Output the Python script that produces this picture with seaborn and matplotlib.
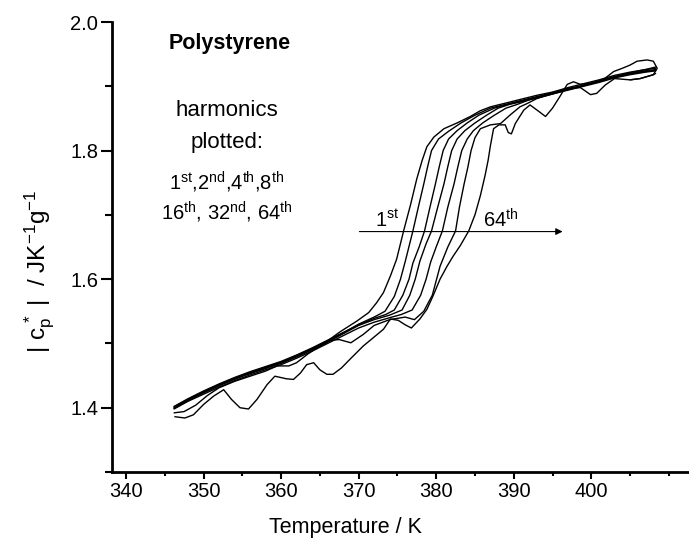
import numpy as np
import pandas as pd
import matplotlib
matplotlib.use("Agg")
import matplotlib.pyplot as plt
from matplotlib.ticker import MultipleLocator
import seaborn as sns

# ---------------- data ----------------
harmonics = ["1st", "2nd", "4th", "8th", "16th", "32nd", "64th"]

h1_T = [346.2, 348, 350, 352, 354, 356, 358, 360, 362, 364, 366, 367.6, 369.8, 371.3, 372.3, 373.2, 374.1,
        374.9, 375.8, 376.7, 377.5, 378.2, 378.8, 379.7, 381.0, 382.7, 384.4, 385.7, 387.0, 389, 391, 393,
        395, 397, 399, 401, 403, 405, 407, 408.3]
h1_cp = [1.401, 1.413, 1.425, 1.436, 1.446, 1.455, 1.463, 1.471, 1.481, 1.492, 1.504, 1.518, 1.535, 1.548,
         1.563, 1.579, 1.605, 1.631, 1.675, 1.716, 1.756, 1.785, 1.806, 1.821, 1.834, 1.843, 1.853, 1.862,
         1.868, 1.874, 1.880, 1.886, 1.891, 1.898, 1.904, 1.910, 1.917, 1.922, 1.926, 1.928]

h2_T = [346.2, 348, 350, 352, 354, 356, 358, 360, 362, 364, 366, 368, 370, 372, 373.4, 374.6, 375.4, 376.0,
        377.0, 377.7, 378.4, 378.9, 379.4, 380.3, 381.6, 383.2, 385.0, 387.0, 389, 391, 393, 395, 397, 399,
        401, 403, 405, 407, 408.3]
h2_cp = [1.399, 1.411, 1.424, 1.435, 1.444, 1.454, 1.462, 1.470, 1.480, 1.491, 1.503, 1.516, 1.530, 1.541,
         1.550, 1.573, 1.600, 1.627, 1.675, 1.712, 1.748, 1.775, 1.800, 1.818, 1.830, 1.843, 1.855, 1.866,
         1.872, 1.878, 1.884, 1.890, 1.896, 1.902, 1.908, 1.915, 1.920, 1.924, 1.926]

h4_T = [346.2, 348, 350, 352, 354, 356, 358, 360, 362, 364, 366, 368, 370, 372, 373.5, 374.6, 375.7, 376.5,
        377.0, 377.8, 378.5, 379.2, 379.9, 380.4, 380.9, 381.6, 382.7, 384.0, 385.5, 387.5, 389, 391, 393,
        395, 397, 399, 401, 403, 405, 407, 408.3]
h4_cp = [1.402, 1.414, 1.426, 1.437, 1.447, 1.456, 1.464, 1.472, 1.482, 1.493, 1.505, 1.517, 1.529, 1.539,
         1.545, 1.552, 1.575, 1.600, 1.625, 1.650, 1.675, 1.712, 1.748, 1.775, 1.800, 1.818, 1.831, 1.843,
         1.855, 1.866, 1.871, 1.877, 1.883, 1.889, 1.895, 1.901, 1.907, 1.914, 1.919, 1.923, 1.925]

h8_T = [346.2, 348, 350, 352, 354, 356, 358, 360, 362, 364, 366, 368, 370, 372, 374, 375.6, 376.6, 377.3,
        377.9, 378.7, 379.4, 380.2, 381.0, 381.5, 382.0, 382.7, 383.7, 385.0, 386.5, 388.0, 389.5, 391, 393,
        395, 397, 399, 401, 403, 405, 407, 408.3]
h8_cp = [1.400, 1.412, 1.423, 1.434, 1.445, 1.453, 1.461, 1.469, 1.479, 1.490, 1.502, 1.515, 1.528, 1.537,
         1.544, 1.552, 1.575, 1.600, 1.628, 1.655, 1.675, 1.712, 1.748, 1.775, 1.800, 1.818, 1.831, 1.843,
         1.855, 1.866, 1.872, 1.876, 1.882, 1.888, 1.894, 1.900, 1.906, 1.913, 1.918, 1.922, 1.924]

h16_T = [346.2, 348, 350, 352, 354, 356, 358, 360, 362, 364, 366, 368, 370, 372, 374, 375.5, 376.9, 378.0,
         378.7, 379.3, 380.0, 380.8, 381.5, 382.3, 382.8, 383.3, 384.0, 384.8, 386.0, 387.5, 389.0, 390.5,
         392, 393.5, 395, 397, 399, 401, 403, 405, 407, 408.3]
h16_cp = [1.398, 1.410, 1.421, 1.432, 1.442, 1.451, 1.459, 1.467, 1.477, 1.488, 1.500, 1.512, 1.524, 1.533,
          1.540, 1.545, 1.552, 1.575, 1.600, 1.627, 1.650, 1.675, 1.712, 1.748, 1.775, 1.800, 1.818, 1.831,
          1.843, 1.855, 1.866, 1.872, 1.879, 1.883, 1.888, 1.895, 1.901, 1.908, 1.915, 1.921, 1.926, 1.930]

h32_T = [346.2, 347.5, 349, 350.5, 352, 354, 356, 358, 359.5, 361, 362, 363.5, 365, 366.5, 367.5, 369,
         370.6, 372, 374, 376, 377.2, 378.4, 379.5, 380.5, 381.5, 382.5, 383.0, 383.6, 384.1, 384.5, 385.0,
         385.7, 387.0, 388.3, 389.5, 390.8, 391.7, 393, 395, 397, 398.6, 399.9, 400.7, 401.8, 403, 405,
         406.3, 408, 408.3]
h32_cp = [1.392, 1.394, 1.404, 1.419, 1.431, 1.441, 1.449, 1.457, 1.465, 1.465, 1.470, 1.484, 1.496, 1.505,
          1.506, 1.501, 1.514, 1.528, 1.537, 1.541, 1.537, 1.550, 1.575, 1.620, 1.650, 1.675, 1.712, 1.748,
          1.775, 1.800, 1.820, 1.834, 1.840, 1.842, 1.855, 1.868, 1.873, 1.881, 1.889, 1.897, 1.898, 1.887,
          1.889, 1.902, 1.912, 1.910, 1.912, 1.918, 1.920]

h64_T = [346.3, 347.6, 348.7, 350.0, 351.3, 352.6, 353.6, 354.7, 355.8, 356.9, 358.2, 359.2, 360.7, 361.6,
         362.5, 363.3, 364.2, 365.0, 365.9, 366.7, 367.8, 369.1, 370.6, 372.0, 373.2, 374.1, 375.1, 376.0,
         376.8, 377.9, 378.8, 379.6, 380.5, 381.4, 382.2, 383.1, 384.2, 385.0, 385.7, 386.3, 386.7, 387.0,
         387.4, 388.1, 388.9, 389.3, 389.7, 390.2, 391.3, 392.1, 393.0, 394.1, 395.0, 396.0, 396.9, 397.7,
         398.6, 400.0, 401.5, 402.9, 404.0, 405.0, 405.9, 407.2, 408.0, 408.5, 408.0, 406.3, 405.0]
h64_cp = [1.386, 1.384, 1.389, 1.405, 1.418, 1.428, 1.413, 1.400, 1.398, 1.413, 1.436, 1.449, 1.445, 1.444,
          1.454, 1.467, 1.470, 1.459, 1.452, 1.452, 1.462, 1.478, 1.496, 1.510, 1.522, 1.538, 1.536, 1.529,
          1.524, 1.538, 1.553, 1.574, 1.600, 1.620, 1.636, 1.652, 1.675, 1.700, 1.730, 1.761, 1.785, 1.808,
          1.834, 1.840, 1.840, 1.828, 1.826, 1.842, 1.863, 1.871, 1.863, 1.853, 1.866, 1.885, 1.903, 1.907,
          1.903, 1.905, 1.910, 1.923, 1.928, 1.933, 1.939, 1.941, 1.939, 1.928, 1.918, 1.912, 1.910]

x_ticks = [340, 350, 360, 370, 380, 390, 400]
y_ticks = [1.4, 1.6, 1.8, 2.0]
y_tick_labels = ["1.4", "1.6", "1.8", "2.0"]

series = {
    "1st": (h1_T, h1_cp), "2nd": (h2_T, h2_cp), "4th": (h4_T, h4_cp), "8th": (h8_T, h8_cp),
    "16th": (h16_T, h16_cp), "32nd": (h32_T, h32_cp), "64th": (h64_T, h64_cp),
}

# ---------------- style ----------------
sns.set_theme(style="ticks", rc={
    "axes.edgecolor": "black", "text.color": "black", "axes.labelcolor": "black",
    "xtick.color": "black", "ytick.color": "black",
})
plt.rcParams["font.family"] = ["Liberation Sans", "DejaVu Sans"]
plt.rcParams["mathtext.fontset"] = "custom"
plt.rcParams["mathtext.rm"] = "Liberation Sans"
plt.rcParams["mathtext.it"] = "Liberation Sans:italic"
plt.rcParams["mathtext.bf"] = "Liberation Sans:bold"

fig = plt.figure(figsize=(6.89, 5.40), dpi=100)
ax = fig.add_axes([112 / 689, 68 / 540, 577 / 689, 450 / 540])

frames = []
for name in harmonics:
    T, cp = series[name]
    frames.append(pd.DataFrame({"T": T, "cp": cp, "harmonic": name, "idx": range(len(T))}))
df = pd.concat(frames, ignore_index=True)

for name in harmonics:
    sub = df[df["harmonic"] == name]
    sns.lineplot(data=sub, x="T", y="cp", sort=False, estimator=None, color="black",
                 linewidth=1.0, ax=ax, legend=False)

ax.set_xlim(338.2, 412.6)
ax.set_ylim(1.3, 2.0)
ax.set_xticks(x_ticks)
ax.set_xticklabels([str(t) for t in x_ticks])
ax.set_yticks(y_ticks)
ax.set_yticklabels(y_tick_labels)
ax.xaxis.set_minor_locator(MultipleLocator(5))
ax.yaxis.set_minor_locator(MultipleLocator(0.1))

for s in ["top", "right"]:
    ax.spines[s].set_visible(False)
for s in ["left", "bottom"]:
    ax.spines[s].set_linewidth(2.0)

ax.tick_params(axis="y", which="major", length=8, width=1.5, direction="out", labelsize=14.5, pad=2)
ax.tick_params(axis="y", which="minor", length=5, width=1.5, direction="out")
ax.tick_params(axis="x", which="major", length=5, width=1.5, direction="out", labelsize=14.5, pad=2)
ax.tick_params(axis="x", which="minor", length=3, width=1.5, direction="out")

ax.set_xlabel("Temperature / K", fontsize=15.5)
ax.xaxis.set_label_coords(0.404, -0.101)
ax.set_ylabel(r"$\mathregular{|\ c_p^{\,*}\ |\ \ /\ JK^{-1}g^{-1}}$", fontsize=17.5)
ax.yaxis.set_label_coords(-0.095, 0.445)

ax.text(353.4, 1.966, "Polystyrene", fontsize=15.5, fontweight="bold", ha="center", va="center")
ax.text(353.0, 1.862, "harmonics", fontsize=16, ha="center", va="center")
ax.text(353.0, 1.812, "plotted:", fontsize=16, ha="center", va="center")
ax.text(353.0, 1.751,
        r"1$^{\mathregular{st}}$,2$^{\mathregular{nd}}$,4$^{\mathregular{th}}$,8$^{\mathregular{th}}$",
        fontsize=14.5, ha="center", va="center")
ax.text(353.0, 1.704,
        r"16$^{\mathregular{th}}$, 32$^{\mathregular{nd}}$, 64$^{\mathregular{th}}$",
        fontsize=14.5, ha="center", va="center")

ax.annotate("", xy=(396.3, 1.674), xytext=(370.1, 1.674),
            arrowprops=dict(arrowstyle="-|>", color="black", lw=0.8, mutation_scale=10,
                            shrinkA=0, shrinkB=0))
ax.text(372.1, 1.681, r"1$^{\mathregular{st}}$", fontsize=14.5, ha="left", va="baseline")
ax.text(386.1, 1.681, r"64$^{\mathregular{th}}$", fontsize=14.5, ha="left", va="baseline")

fig.savefig("out.png", dpi=100)
